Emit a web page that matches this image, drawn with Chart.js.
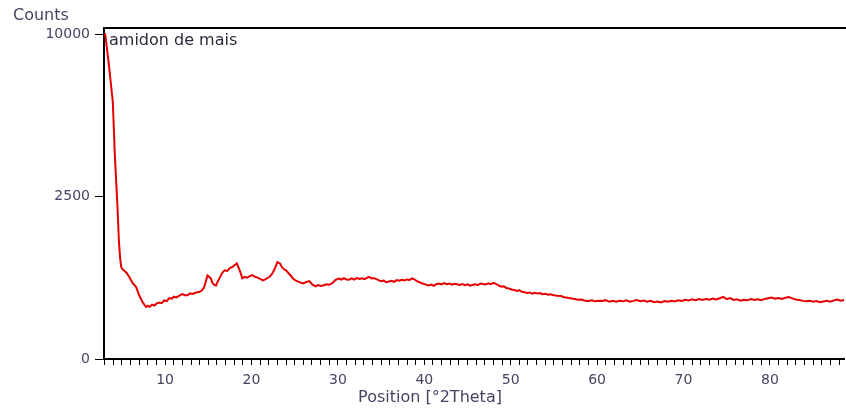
<!DOCTYPE html>
<html>
<head>
<meta charset="utf-8">
<script src="https://cdn.jsdelivr.net/npm/chart.js@4.4.1/dist/chart.umd.min.js"></script>
<style>
  html, body { margin: 0; padding: 0; background: #fff; overflow: hidden; }
  canvas { display: block; }
</style>
</head>
<body>
<canvas id="xrd" width="846" height="409"></canvas>
<script>
// values (position in °2Theta, counts)
const twoTheta = [
  3.0, 3.1, 3.5, 3.95, 4.2, 4.5, 4.65, 4.8, 4.92, 5.1, 5.5, 5.9, 6.25, 6.65, 7.0, 7.4, 7.8, 8.0, 8.2, 8.5,
  8.75, 9.0, 9.3, 9.6, 9.9, 10.2, 10.5, 10.8, 11.0, 11.3, 11.6, 12.0, 12.3, 12.6, 12.9, 13.2, 13.5, 13.9, 14.2, 14.5,
  14.7, 14.9, 15.1, 15.3, 15.5, 15.7, 15.9, 16.1, 16.3, 16.6, 16.9, 17.2, 17.5, 17.8, 18.0, 18.3, 18.5, 18.7, 18.95, 19.2,
  19.5, 19.8, 20.1, 20.4, 20.7, 21.0, 21.3, 21.6, 21.8, 22.1, 22.4, 22.7, 23.0, 23.3, 23.55, 23.8, 24.0, 24.5, 24.8, 25.1,
  25.4, 25.7, 26.0, 26.3, 26.7, 27.0, 27.4, 27.7, 28.0, 28.4, 28.7, 29.0, 29.4, 29.7, 30.1, 30.4, 30.7, 31.0, 31.3, 31.6,
  31.9, 32.2, 32.5, 32.8, 33.1, 33.4, 33.6, 33.9, 34.1, 34.4, 34.7, 35.0, 35.3, 35.6, 35.9, 36.2, 36.5, 36.8, 37.1, 37.4,
  37.7, 38.0, 38.3, 38.6, 38.9, 39.2, 39.5, 39.8, 40.1, 40.5, 40.8, 41.1, 41.4, 41.7, 42.0, 42.3, 42.6, 42.9, 43.2, 43.5,
  43.8, 44.1, 44.4, 44.7, 45.0, 45.3, 45.6, 45.9, 46.2, 46.5, 46.8, 47.1, 47.4, 47.7, 48.0, 48.3, 48.6, 48.9, 49.2, 49.5,
  49.8, 50.1, 50.4, 50.7, 51.0, 51.3, 51.6, 51.9, 52.2, 52.5, 52.8, 53.1, 53.4, 53.7, 54.0, 54.3, 54.6, 55.0, 55.4, 55.8,
  56.2, 56.6, 57.0, 57.4, 57.8, 58.2, 58.6, 59.0, 59.4, 59.8, 60.2, 60.6, 61.0, 61.4, 61.8, 62.2, 62.6, 63.0, 63.4, 63.8,
  64.2, 64.6, 65.0, 65.4, 65.8, 66.2, 66.6, 67.0, 67.4, 67.8, 68.2, 68.6, 69.0, 69.4, 69.8, 70.2, 70.6, 71.0, 71.4, 71.8,
  72.2, 72.6, 73.0, 73.4, 73.8, 74.2, 74.6, 75.0, 75.4, 75.8, 76.2, 76.6, 77.0, 77.4, 77.8, 78.2, 78.6, 79.0, 79.4, 79.8,
  80.2, 80.6, 81.0, 81.4, 81.8, 82.2, 82.6, 83.0, 83.4, 83.8, 84.2, 84.6, 85.0, 85.4, 85.8, 86.2, 86.6, 87.0, 87.4, 87.8,
  88.2, 88.6
];
const counts = [
  10050, 9900, 8180, 6260, 3820, 2150, 1330, 960, 800, 760, 710, 630, 545, 490, 385, 305, 255, 268, 258, 280,
  270, 290, 302, 296, 325, 318, 352, 345, 368, 360, 378, 398, 385, 384, 408, 400, 415, 424, 440, 480,
  560, 660, 640, 612, 545, 520, 512, 570, 620, 700, 745, 735, 785, 805, 830, 868, 790, 720, 615, 640,
  628, 650, 665, 640, 628, 610, 585, 600, 618, 640, 690, 775, 890, 865, 795, 760, 744, 665, 615, 585,
  568, 552, 540, 560, 575, 530, 500, 518, 505, 515, 530, 522, 548, 590, 612, 598, 620, 600, 596, 615,
  598, 622, 608, 618, 605, 628, 640, 615, 622, 608, 590, 575, 582, 558, 570, 578, 565, 590, 582, 596,
  585, 600, 592, 615, 598, 570, 555, 540, 528, 512, 525, 508, 530, 540, 528, 545, 530, 538, 522, 535,
  528, 520, 532, 515, 528, 510, 520, 530, 518, 540, 532, 525, 542, 530, 548, 535, 512, 495, 500, 478,
  470, 458, 452, 440, 446, 428, 422, 414, 420, 405, 416, 408, 412, 398, 404, 392, 398, 386, 380, 375,
  362, 355, 348, 340, 332, 336, 322, 318, 326, 315, 322, 318, 328, 312, 320, 310, 322, 315, 326, 312,
  320, 330, 316, 324, 312, 320, 306, 314, 304, 318, 310, 322, 314, 326, 320, 332, 325, 338, 328, 340,
  330, 342, 332, 345, 336, 350, 365, 340, 352, 330, 338, 322, 332, 326, 340, 330, 338, 328, 342, 350,
  358, 345, 352, 342, 356, 364, 348, 336, 330, 320, 315, 322, 310, 318, 306, 314, 322, 312, 326, 334,
  322, 330
];
const xMin = 2.93;
const xMax = 88.6;
const yMax = 10380;
const yTicks = [0, 2500, 10000];
const sampleName = "amidon de mais";
const yTitle = "Counts";
const xTitle = "Position [°2Theta]";

const textColor = "#4a3f62";
const fontName = "'DejaVu Sans', sans-serif";

// square root axis like the diffractometer software uses
class SqrtScale extends Chart.LinearScale {
  buildTicks() {
    return yTicks.map(v => ({ value: v }));
  }
  getPixelForValue(value) {
    const lo = Math.sqrt(this.min), hi = Math.sqrt(this.max);
    return this.getPixelForDecimal((Math.sqrt(Math.max(value, 0)) - lo) / (hi - lo));
  }
  getValueForPixel(pixel) {
    const lo = Math.sqrt(this.min), hi = Math.sqrt(this.max);
    const s = lo + this.getDecimalForPixel(pixel) * (hi - lo);
    return s * s;
  }
}
SqrtScale.id = "sqrt";
SqrtScale.defaults = Chart.LinearScale.defaults;
Chart.register(SqrtScale);

// top border + free texts
const frameText = {
  id: "frameText",
  afterDraw(chart) {
    const ctx = chart.ctx;
    const a = chart.chartArea;
    ctx.save();
    ctx.strokeStyle = "#000";
    ctx.lineWidth = 2;
    ctx.beginPath();
    ctx.moveTo(a.left - 1, a.top);
    ctx.lineTo(a.right + 2, a.top);
    ctx.stroke();

    ctx.font = "16px " + fontName;
    ctx.fillStyle = textColor;
    ctx.textBaseline = "middle";
    ctx.textAlign = "left";
    ctx.fillText(yTitle, 13, 16);
    ctx.textAlign = "center";
    ctx.fillText(xTitle, 430, 398);
    ctx.textAlign = "left";
    ctx.fillStyle = "#2e2a3a";
    ctx.fillText(sampleName, 109, 41);
    ctx.restore();
  }
};

const points = twoTheta.map((t, i) => ({ x: t, y: counts[i] }));

new Chart(document.getElementById("xrd"), {
  type: "line",
  data: {
    datasets: [{
      label: sampleName,
      data: points,
      borderColor: "#e60000",
      borderWidth: 2,
      pointRadius: 0,
      tension: 0,
      fill: false
    }]
  },
  options: {
    responsive: false,
    animation: false,
    devicePixelRatio: 1,
    layout: { padding: { top: 28, right: 0, left: 0, bottom: 0 } },
    plugins: { legend: { display: false }, tooltip: { enabled: false } },
    scales: {
      x: {
        type: "linear",
        min: xMin,
        max: xMax,
        afterFit(s) { s.height = 50; },
        border: { display: true, color: "#000", width: 2 },
        grid: { drawOnChartArea: false, tickLength: 6, tickColor: "#000", tickWidth: 1 },
        ticks: {
          stepSize: 1,
          includeBounds: false,
          autoSkip: false,
          maxRotation: 0,
          padding: 7,
          color: textColor,
          font: { family: fontName, size: 14 },
          callback: v => (Math.round(v) % 10 === 0 ? String(Math.round(v)) : "")
        }
      },
      y: {
        type: "sqrt",
        min: 0,
        max: yMax,
        afterFit(s) { s.width = 104; },
        border: { display: true, color: "#000", width: 2 },
        grid: { drawOnChartArea: false, tickLength: 9, tickColor: "#000", tickWidth: 1 },
        ticks: {
          padding: 5,
          color: textColor,
          font: { family: fontName, size: 14 },
          callback: v => String(v)
        }
      }
    }
  },
  plugins: [frameText]
});
</script>
</body>
</html>
